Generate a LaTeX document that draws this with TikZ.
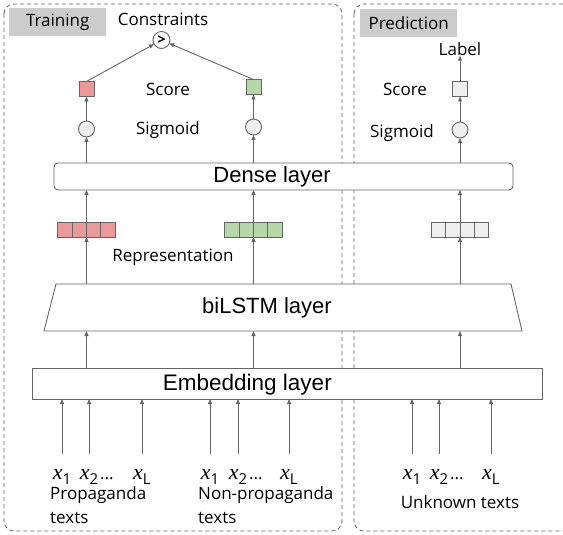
\documentclass[tikz,border=0pt]{standalone}
\usepackage{fontspec}
\setmainfont{Open Sans}
\newfontfamily\layerfont{Liberation Sans}
\newfontfamily\tokfont{Liberation Serif}
\usepackage{xcolor}
\usepackage{tikz}
\usetikzlibrary{positioning, shapes}
\usetikzlibrary{arrows.meta}

\definecolor{linegray}{HTML}{666666}
\definecolor{tagfill}{HTML}{CCCCCC}
\definecolor{redfill}{HTML}{EA9999}
\definecolor{greenfill}{HTML}{B6D7A8}
\definecolor{lightfill}{HTML}{EFEFEF}

\newcommand{\tokx}[1]{{\tokfont\itshape\fontsize{22}{22}\selectfont x}\raisebox{-5pt}{\fontsize{15}{15}\selectfont #1}}

\begin{document}
\begin{tikzpicture}[x=1pt, y=-1pt]
    \tikzset{arr/.style = {draw=linegray, line width=0.9pt, -{Triangle[length=5pt, width=4pt]}}}
    \tikzset{phase/.style = {draw=linegray, line width=0.8pt, dash pattern=on 4pt off 3pt, rounded corners=10pt}}
    \tikzset{tag/.style = {fill=tagfill, minimum width=97pt, minimum height=28pt, inner sep=0pt, anchor=north west, font=\fontsize{17}{17}\selectfont}}
    \tikzset{layer/.style = {draw=linegray, line width=0.9pt, fill=white, inner sep=0pt, outer sep=0pt}}
    \tikzset{layertext/.style = {anchor=east, inner sep=0pt, font=\layerfont\fontsize{22}{22}\selectfont}}
    \tikzset{txt/.style = {inner sep=0pt, font=\fontsize{17}{17}\selectfont}}
    \tikzset{cell/.style = {draw=linegray, line width=0.9pt, minimum width=14.4pt, minimum height=15pt, inner sep=0pt, outer sep=0pt}}
    \tikzset{sq/.style = {cell, minimum width=15pt}}
    \tikzset{sig/.style = {circle, draw=linegray, line width=0.9pt, fill=lightfill, minimum size=16pt, inner sep=0pt, outer sep=0pt}}
    \tikzset{tok/.style = {anchor=base, inner sep=0pt, text height=25pt, text depth=6pt}}

    \useasboundingbox (0,0) rectangle (563,535);

    % phases
    \draw[phase] (4,4) rectangle (342,531);
    \draw[phase] (354,4) rectangle (580,531);
    \node[tag] (training) at (9,8) {Training};
    \node[tag] (prediction) at (360,9) {Prediction};

    % layers
    \node[layer, rounded corners=4pt, minimum width=459pt, minimum height=27pt] (dense) at (283.5,176.5) {};
    \node[inner sep=0pt, outer sep=0pt, minimum width=478pt, minimum height=47pt] (lstm) at (283,307.5) {};
    \draw[layer] (56,284) -- (511,284) -- (522,331) -- (44,331) -- cycle;
    \node[layer, minimum width=510pt, minimum height=31pt] (emb) at (287,383.5) {};
    \node[layertext] (densetxt) at (331,177) {Dense layer};
    \node[layertext] (lstmtxt) at (332,308) {biLSTM layer};
    \node[layertext, font=\layerfont\fontsize{22.5}{22.5}\selectfont] (embtxt) at (332,385) {Embedding layer};

    % representations
    \foreach \name/\cx/\col in {repA/86.5/redfill, repB/253.5/greenfill, repC/460/lightfill}
        \foreach \i in {1,...,4}
            \node[cell, fill=\col] (\name\i) at ({\cx+14.4*(\i-2.5)},229.5) {};

    % sigmoid and score
    \node[sig] (sigA) at (86.5,129) {};
    \node[sig] (sigB) at (253.5,127) {};
    \node[sig] (sigC) at (460,130) {};
    \node[sq, fill=redfill] (scoreA) at (86.5,89) {};
    \node[sq, fill=greenfill] (scoreB) at (253.5,87) {};
    \node[sq, fill=lightfill] (scoreC) at (460,89) {};
    \node[sig, fill=white, minimum size=17pt, font=\fontsize{14}{14}\selectfont\bfseries] (cmp) at (161.5,40) {>};

    % labels
    \node[txt] (constraints) at (163,19) {Constraints};
    \node[txt] (scoretxtA) at (168,89) {Score};
    \node[txt] (sigtxtA) at (168,130) {Sigmoid};
    \node[txt] (reptxt) at (173,257) {Representation};
    \node[txt] (label) at (460,49) {Label};
    \node[txt] (scoretxtC) at (405,89) {Score};
    \node[txt] (sigtxtC) at (402,133) {Sigmoid};

    % arrows
    \foreach \c in {A,B,C} {
        \draw[arr] (emb.north -| rep\c2.south east) -- (lstm.south -| rep\c2.south east);
        \draw[arr] (lstm.north -| rep\c2.south east) -- (rep\c2.south east);
        \draw[arr] (rep\c2.north east) -- (dense.south -| rep\c2.north east);
        \draw[arr] (dense.north -| sig\c.south) -- (sig\c.south);
        \draw[arr] (sig\c.north) -- (score\c.south);
    }
    \draw[arr] (scoreA.north) -- (cmp);
    \draw[arr] (scoreB.north) -- (cmp);
    \draw[arr] (scoreC.north) -- (label.south);

    % inputs
    \foreach \name/\tx/\sub in {tokA1/62/1, tokA2/89/2, tokAL/142/L, tokB1/210/1, tokB2/238/2, tokBL/289/L,
                                tokC1/412/1, tokC2/439/2, tokCL/491/L} {
        \node[tok] (\name) at (\tx,479) {\tokx{\sub}};
        \draw[arr] (\name.north) -- (emb.south -| \name.north);
    }
    \node[txt, anchor=base west] (dotsA) at (100,479) {...};
    \node[txt, anchor=base west] (dotsB) at (249,479) {...};
    \node[txt, anchor=base west] (dotsC) at (450,479) {...};

    \node[txt, anchor=base west, align=left, font=\fontsize{17}{24}\selectfont] (propA) at (50,523) {Propaganda\\texts};
    \node[txt, anchor=base west, align=left, font=\fontsize{17}{24}\selectfont] (propB) at (198,523) {Non-propaganda\\texts};
    \node[txt, anchor=base] (unknown) at (460,508) {Unknown texts};
\end{tikzpicture}
\end{document}
